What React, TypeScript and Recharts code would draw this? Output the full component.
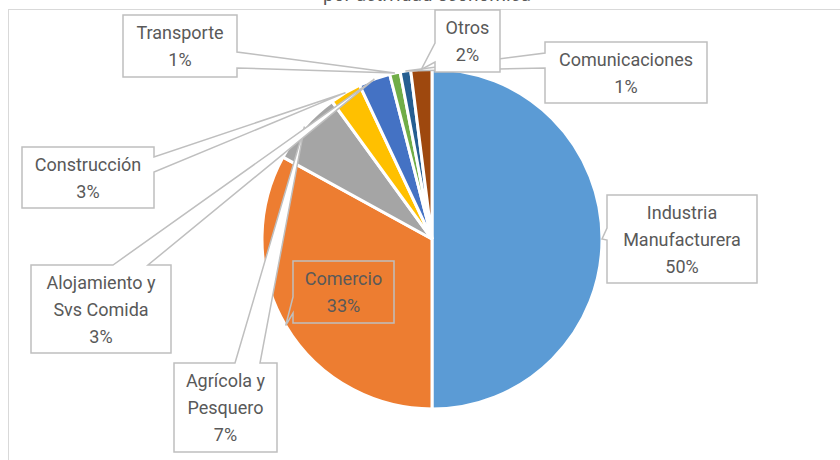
import React from 'react';
import { PieChart, Pie, Cell } from 'recharts';

// Sector shares, clockwise from 12 o'clock
const categories = [
  'Industria Manufacturera',
  'Comercio',
  'Agrícola y Pesquero',
  'Construcción',
  'Alojamiento y Svs Comida',
  'Transporte',
  'Comunicaciones',
  'Otros',
];
const shares = [50, 33, 7, 3, 3, 1, 1, 2];

const COLORS = [
  '#5B9BD5',
  '#ED7D31',
  '#A5A5A5',
  '#FFC000',
  '#4472C4',
  '#70AD47',
  '#255E91',
  '#9E480E',
];

const data = categories.map((name, i) => ({ name, value: shares[i] }));

type Side = 'top' | 'right' | 'bottom' | 'left';

interface Callout {
  x: number;
  y: number;
  w: number;
  h: number;
  side: Side;
  base: [number, number];
  lines: string[];
  fill: string;
}

// Callout boxes (Excel style data labels), indexed like the data
const CALLOUTS: Callout[] = [
  { x: 607, y: 195, w: 150, h: 88, side: 'left', base: [228, 240], lines: ['Industria', 'Manufacturera'], fill: '#FFFFFF' },
  { x: 293, y: 261, w: 101, h: 62, side: 'left', base: [297, 313], lines: ['Comercio'], fill: 'none' },
  { x: 174, y: 363, w: 103, h: 89, side: 'top', base: [235, 260], lines: ['Agrícola y', 'Pesquero'], fill: '#FFFFFF' },
  { x: 22, y: 147, w: 132, h: 61, side: 'right', base: [157, 172], lines: ['Construcción'], fill: '#FFFFFF' },
  { x: 31, y: 265, w: 140, h: 88, side: 'top', base: [113, 148], lines: ['Alojamiento y', 'Svs Comida'], fill: '#FFFFFF' },
  { x: 123, y: 15, w: 114, h: 62, side: 'right', base: [52, 68], lines: ['Transporte'], fill: '#FFFFFF' },
  { x: 545, y: 42, w: 162, h: 61, side: 'left', base: [53, 68], lines: ['Comunicaciones'], fill: '#FFFFFF' },
  { x: 435, y: 10, w: 65, h: 62, side: 'left', base: [43, 62], lines: ['Otros'], fill: '#FFFFFF' },
];

const RADIAN = Math.PI / 180;
const LINE_H = 27;

const calloutPath = (c: Callout, tx: number, ty: number) => {
  const { x, y, w, h, side, base } = c;
  const [b1, b2] = base;
  const p: string[] = [`M${x},${y}`];
  if (side === 'top') p.push(`L${b1},${y}`, `L${tx},${ty}`, `L${b2},${y}`);
  p.push(`L${x + w},${y}`);
  if (side === 'right') p.push(`L${x + w},${b1}`, `L${tx},${ty}`, `L${x + w},${b2}`);
  p.push(`L${x + w},${y + h}`);
  if (side === 'bottom') p.push(`L${b2},${y + h}`, `L${tx},${ty}`, `L${b1},${y + h}`);
  p.push(`L${x},${y + h}`);
  if (side === 'left') p.push(`L${x},${b2}`, `L${tx},${ty}`, `L${x},${b1}`);
  p.push('Z');
  return p.join(' ');
};

const renderCallout = (props: any) => {
  const { cx, cy, midAngle, outerRadius, index, value } = props;
  const c = CALLOUTS[index];
  if (!c) return null;
  const tx = cx + outerRadius * Math.cos(-midAngle * RADIAN);
  const ty = cy + outerRadius * Math.sin(-midAngle * RADIAN);
  const rows = [...c.lines, `${value}%`];
  const mid = c.y + c.h / 2;
  const first = mid - ((rows.length - 1) * LINE_H) / 2;
  return (
    <g key={`callout-${index}`}>
      <path
        d={calloutPath(c, tx, ty)}
        fill={c.fill}
        stroke="#BFBFBF"
        strokeWidth={1.5}
      />
      {rows.map((r, i) => (
        <text
          key={i}
          x={c.x + c.w / 2}
          y={first + i * LINE_H}
          textAnchor="middle"
          dominantBaseline="central"
          fill="#595959"
          fontSize={18}
          fontFamily="Roboto, sans-serif"
        >
          {r}
        </text>
      ))}
    </g>
  );
};

export default function App() {
  return (
    <div
      style={{
        position: 'absolute',
        left: 0,
        top: 0,
        width: 840,
        height: 460,
        background: '#FFFFFF',
        overflow: 'hidden',
      }}
    >
      <div
        style={{
          position: 'absolute',
          left: 8,
          top: 9,
          width: 840,
          height: 460,
          borderTop: '1px solid #D9D9D9',
          borderLeft: '1px solid #D9D9D9',
        }}
      />
      <div style={{ position: 'absolute', left: 0, top: 0 }}>
        <PieChart
          width={840}
          height={460}
          margin={{ top: 0, right: 0, bottom: 0, left: 0 }}
        >
          {/* chart title, cut off at the top edge as in the source */}
          <text
            x={427}
            y={1}
            textAnchor="middle"
            fill="#595959"
            fontSize={19}
            fontFamily="Roboto, sans-serif"
          >
            por actividad económica
          </text>
          <Pie
            data={data}
            dataKey="value"
            nameKey="name"
            cx={432}
            cy={239}
            outerRadius={170}
            startAngle={90}
            endAngle={-270}
            stroke="#FFFFFF"
            strokeWidth={3}
            labelLine={false}
            label={renderCallout}
            isAnimationActive={false}
          >
            {data.map((entry, index) => (
              <Cell key={`cell-${index}`} fill={COLORS[index]} />
            ))}
          </Pie>
        </PieChart>
      </div>
    </div>
  );
}
